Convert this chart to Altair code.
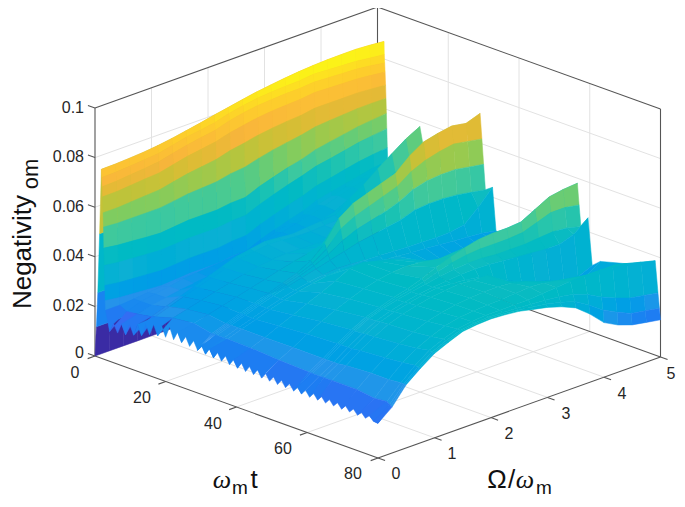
import altair as alt
import pandas as pd

alt.data_transformers.disable_max_rows()

# ---- surface data: negativity x 1e4, rows = omega_m t, columns = Omega/omega_m
omega_grid = [0, .25, .5, .75, 1, 1.25, 1.5, 1.75, 2, 2.25, 2.5, 2.75, 3, 3.25, 3.5, 3.75, 4, 4.25, 4.5, 4.75, 5]
t_grid = [0, .4, .8, 1.3, 1.8, 1.92, 2.04, 2.16, 2.28, 2.4, 2.52, 2.64, 2.76, 2.88, 3.0,
          5, 8, 12, 13, 18, 24, 29, 29.5, 30, 30.5, 32.5, 33.5, 40, 48,
          56.5, 57, 57.5, 59.5, 60.7, 63, 70, 75, 78.5, 79.3, 79.7, 80]
z_rows = [
 [0]*21,
 [120]*21,
 [260]*21,
 [500]*21,
 [762,763,766,770,776,785,795,806,818,829,840,850,858,865,871,875,878,879,879,875,870],
 [730,731,735,740,745,758,771,779,788,805,816,825,830,833,835,841,838,835,832,825,818],
 [693,695,701,706,712,726,739,749,758,776,788,796,801,804,805,810,807,804,801,794,785],
 [653,654,659,664,668,681,694,703,712,728,739,749,755,759,761,768,766,764,762,756,749],
 [589,589,593,597,601,613,625,633,641,657,667,679,687,693,697,706,706,706,706,702,697],
 [532,528,528,528,528,536,544,548,552,564,570,586,599,609,618,631,636,640,644,645,644],
 [448,440,436,431,427,433,439,439,439,447,449,472,490,507,521,540,551,561,572,578,584],
 [379,371,367,363,359,363,367,367,367,375,377,401,421,439,455,474,484,496,508,516,523],
 [299,290,286,282,278,282,286,286,286,294,296,320,340,358,374,395,407,420,432,440,447],
 [238,230,226,222,218,222,226,226,226,234,235,260,280,298,314,339,351,363,375,387,394],
 [200,200,205,210,215,218,222,222,222,226,230,250,268,285,300,320,335,350,365,378,390],
 [160,185,205,215,225,235,240,245,250,255,260,270,280,295,310,325,345,360,375,385,395],
 [170,190,205,215,225,232,238,242,248,250,255,265,275,290,305,320,340,355,370,385,400],
 [180,200,220,240,260,280,300,320,330,340,335,330,335,340,345,390,425,470,510,550,580],
 [185,205,225,245,262,280,298,315,325,332,330,325,325,328,330,350,375,410,440,470,500],
 [205,225,240,255,270,285,300,310,318,322,320,318,320,325,330,345,365,385,410,430,450],
 [215,235,250,265,280,295,310,325,340,352,360,370,385,405,430,460,490,515,540,560,580],
 [205,220,240,260,280,300,320,340,370,420,500,540,560,580,600,650,686,700,710,700,720],
 [205,220,240,260,280,300,320,338,362,400,460,490,510,530,550,590,615,630,640,630,620],
 [205,220,240,260,280,300,318,335,355,380,415,440,455,470,490,520,535,540,540,530,520],
 [205,220,240,260,280,298,315,330,345,360,375,390,400,410,420,440,445,445,440,430,420],
 [205,220,240,258,278,295,310,322,332,338,335,330,328,325,322,320,318,320,330,380,440],
 [205,220,240,258,278,295,310,322,332,335,330,322,315,310,305,300,295,290,285,280,270],
 [200,218,240,265,290,315,340,365,395,400,385,370,350,325,290,270,260,255,250,250,250],
 [190,210,240,275,305,330,355,375,390,400,405,400,385,360,340,320,300,290,280,270,265],
 [175,205,240,280,315,345,365,385,400,420,445,465,482,495,500,500,505,535,565,575,580],
 [172,205,240,280,315,345,365,382,395,410,430,445,455,460,460,460,465,485,505,505,495],
 [172,205,240,280,315,345,365,380,392,402,412,420,425,425,420,420,420,425,430,425,410],
 [172,205,240,280,315,345,365,380,392,400,405,410,412,410,405,400,395,390,390,410,456],
 [172,205,240,280,318,348,368,382,395,403,400,395,385,365,330,305,285,265,250,245,270],
 [170,205,245,285,320,350,370,385,398,405,410,405,405,360,330,310,300,280,260,260,298],
 [160,205,250,292,328,355,378,393,404,410,414,415,410,395,375,355,338,335,330,328,325],
 [150,195,250,298,335,362,385,398,404,408,410,415,420,415,405,395,385,385,385,365,345],
 [165,200,255,305,345,370,390,400,405,405,405,405,410,415,420,420,420,415,410,395,380],
 [150,193,255,302,342,368,389,398,402,400,397,392,388,382,372,350,320,295,275,265,255],
 [145,188,255,300,340,366,388,396,400,397,392,383,375,362,345,310,270,240,215,205,195],
 [140,185,255,300,340,365,388,395,398,394,388,375,363,345,320,275,220,190,170,160,150],
]

# saw-tooth edge of the sheet along Omega = 0
edge_t = [3.0,4.13,5.26,6.39,7.52,8.65,9.78,10.91,12.04,13.17,14.3,15.43,16.56,17.69,18.82,19.95,21.08,22.21,
          23.34,24.47,25.6,26.73,27.86,28.99,30.12,31.25,32.38,33.51,34.64,35.77,36.9,38.03,39.16,40.29,41.42,
          42.55,43.68,44.81,45.94,47.07,48.2,49.33,50.46,51.59,52.72,53.85,54.98,56.11,57.24,58.37,59.5,60.63,
          61.76,62.89,64.02,65.15,66.28,67.41,68.54,69.67,70.8,71.93,73.06,74.19,75.32,76.45,77.58,78.71,80]
edge_z = [200,120,157,125,168,130,178,140,190,150,205,165,212,172,218,178,226,180,
          216,180,210,176,205,172,198,168,195,165,192,163,190,160,186,158,184,
          156,182,155,180,153,178,152,175,150,173,149,171,148,169,147,168,146,
          167,146,166,145,165,145,164,144,163,144,162,143,160,142,158,142,140]

# ---- axes
t_ticks = [0, 20, 40, 60, 80]
omega_ticks = [0, 1, 2, 3, 4, 5]
z_ticks = [0, 0.02, 0.04, 0.06, 0.08, 0.1]
z_labels = ["0", "0.02", "0.04", "0.06", "0.08", "0.1"]

parula_stops = [0, .08, .15, .25, .375, .48, .55, .64, .72, .80, .9, 1]
parula_cols = ["#35268f", "#3b2ca8", "#4a5cf0", "#2794ea", "#0cb0d4", "#0fbcc0", "#3cc8a0", "#80cc60",
               "#c4c238", "#f8b43c", "#fdd02a", "#f9fb15"]
z_top = 0.0875


def project(t, om, z):
    return (95 + 3.5375 * t + 56.5 * om, 356 + 1.275 * t - 20.2 * om - 2480 * z)


# ---- facets, far to near
rows = []
pid = 0


def add_poly(pts):
    global pid
    mean_z = sum(p[2] for p in pts) / len(pts)
    for k, p in enumerate(pts):
        x, y = project(*p)
        rows.append({"x": round(x, 1), "y": round(y, 1), "z": round(mean_z, 5), "poly": pid, "k": k})
    pid += 1


for r in range(len(t_grid) - 1):
    t0, t1 = t_grid[r], t_grid[r + 1]
    for i in range(len(omega_grid) - 2, -1, -1):
        o0, o1 = omega_grid[i], omega_grid[i + 1]
        if i == 0 and t0 >= 3:
            lo = max(j for j, v in enumerate(edge_t) if v <= t0)
            hi = min(j for j, v in enumerate(edge_t) if v >= t1)
            pts = [(edge_t[j], 0, edge_z[j] / 1e4) for j in range(lo, hi + 1)]
            pts += [(t1, o1, z_rows[r + 1][1] / 1e4), (t0, o1, z_rows[r][1] / 1e4)]
        else:
            pts = [(t0, o0, z_rows[r][i] / 1e4), (t1, o0, z_rows[r + 1][i] / 1e4),
                   (t1, o1, z_rows[r + 1][i + 1] / 1e4), (t0, o1, z_rows[r][i + 1] / 1e4)]
        add_poly(pts)
surface_df = pd.DataFrame(rows)

# ---- lines
grid, box, seg = [], [], 0


def add_seg(store, a, b):
    global seg
    for k, p in enumerate((a, b)):
        x, y = project(*p)
        store.append({"x": x, "y": y, "seg": seg, "k": k})
    seg += 1


for z in z_ticks[1:-1]:
    add_seg(grid, (0, 0, z), (0, 5, z))
    add_seg(grid, (0, 5, z), (80, 5, z))
for om in omega_ticks[1:-1]:
    add_seg(grid, (0, om, 0), (80, om, 0))
    add_seg(grid, (0, om, 0), (0, om, .1))
for t in t_ticks[1:-1]:
    add_seg(grid, (t, 0, 0), (t, 5, 0))
    add_seg(grid, (t, 5, 0), (t, 5, .1))
add_seg(grid, (0, 0, 0), (0, 5, 0))

add_seg(box, (0, 0, .1), (0, 5, .1))
add_seg(box, (0, 5, .1), (80, 5, .1))
add_seg(box, (0, 0, 0), (0, 0, .1))
add_seg(box, (80, 5, 0), (80, 5, .1))
add_seg(box, (0, 5, 0), (0, 5, .1))
add_seg(box, (0, 5, 0), (80, 5, 0))
add_seg(box, (0, 0, 0), (80, 0, 0))
add_seg(box, (80, 0, 0), (80, 5, 0))
for z in z_ticks:
    add_seg(box, (0, 0, z), (-2, 0, z))
for t in t_ticks:
    add_seg(box, (t, 0, 0), (t, -.13, 0))
for om in omega_ticks:
    add_seg(box, (80, om, 0), (82, om, 0))

X = alt.X("x:Q", scale=alt.Scale(domain=[8, 677], nice=False, zero=False), axis=None)
Y = alt.Y("y:Q", scale=alt.Scale(domain=[499, 8], nice=False, zero=False), axis=None)

grid_layer = alt.Chart(pd.DataFrame(grid)).mark_line(color="#e2e2e2", strokeWidth=1).encode(
    x=X, y=Y, detail="seg:N", order="k:Q")
box_layer = alt.Chart(pd.DataFrame(box)).mark_line(color="#555555", strokeWidth=1.1).encode(
    x=X, y=Y, detail="seg:N", order="k:Q")

col_scale = alt.Scale(domain=[s * z_top for s in parula_stops], range=parula_cols, clamp=True)
surface_layer = alt.Chart(surface_df).mark_line(interpolate="linear-closed", strokeWidth=0.5).encode(
    x=X, y=Y, detail="poly:N", order="k:Q",
    fill=alt.Fill("z:Q", scale=col_scale, legend=None),
    stroke=alt.Stroke("z:Q", scale=col_scale, legend=None),
)

# ---- tick labels
z_label_df = pd.DataFrame({"x": [84] * 6, "y": [353, 306, 256, 207, 157, 108], "s": z_labels})
z_text = alt.Chart(z_label_df).mark_text(font="Liberation Sans", fontSize=16, align="right", color="#262626").encode(
    x=X, y=Y, text="s:N")
t_label_df = pd.DataFrame({"x": [75, 142, 213, 283, 353], "y": [373, 398, 424, 449, 474],
                           "s": [str(v) for v in t_ticks]})
t_text = alt.Chart(t_label_df).mark_text(font="Liberation Sans", fontSize=16, color="#262626").encode(
    x=X, y=Y, text="s:N")
om_label_df = pd.DataFrame({"x": [396, 452, 509, 566, 622, 671], "y": [474, 454, 434, 414, 394, 374],
                            "s": [str(v) for v in omega_ticks]})
om_text = alt.Chart(om_label_df).mark_text(font="Liberation Sans", fontSize=16, color="#262626").encode(
    x=X, y=Y, text="s:N")

# ---- axis titles
title_df = pd.DataFrame({"x": [254, 497, 511.5], "y": [480, 480, 480], "s": ["t", "\u03a9", "/"]})
title_text = alt.Chart(title_df).mark_text(font="Liberation Sans", fontSize=26, color="#111111").encode(
    x=X, y=Y, text="s:N")
sub_df = pd.DataFrame({"x": [240, 544], "y": [488, 488], "s": ["m", "m"]})
sub_text = alt.Chart(sub_df).mark_text(font="Liberation Sans", fontSize=19, color="#111111").encode(
    x=X, y=Y, text="s:N")
omega_df = pd.DataFrame({"x": [222, 525], "y": [480, 480], "s": ["\u03c9", "\u03c9"]})
omega_text = alt.Chart(omega_df).mark_text(font="Liberation Serif", fontSize=26, fontStyle="italic",
                                           color="#111111").encode(x=X, y=Y, text="s:N")
neg_text = alt.Chart(pd.DataFrame({"x": [23], "y": [252], "s": ["Negativity"]})).mark_text(
    font="Liberation Sans", fontSize=26, angle=270, color="#111111").encode(x=X, y=Y, text="s:N")
om_sub = alt.Chart(pd.DataFrame({"x": [31], "y": [174], "s": ["om"]})).mark_text(
    font="Liberation Sans", fontSize=22, angle=270, color="#111111").encode(x=X, y=Y, text="s:N")

chart = alt.layer(
    grid_layer, box_layer, surface_layer, z_text, t_text, om_text, title_text, sub_text, omega_text, neg_text, om_sub
).properties(width=669, height=491, padding=0,
             autosize=alt.AutoSizeParams(type="none")).configure_view(stroke=None)

chart.save("out.html", embed_options={"renderer": "svg", "actions": False})
